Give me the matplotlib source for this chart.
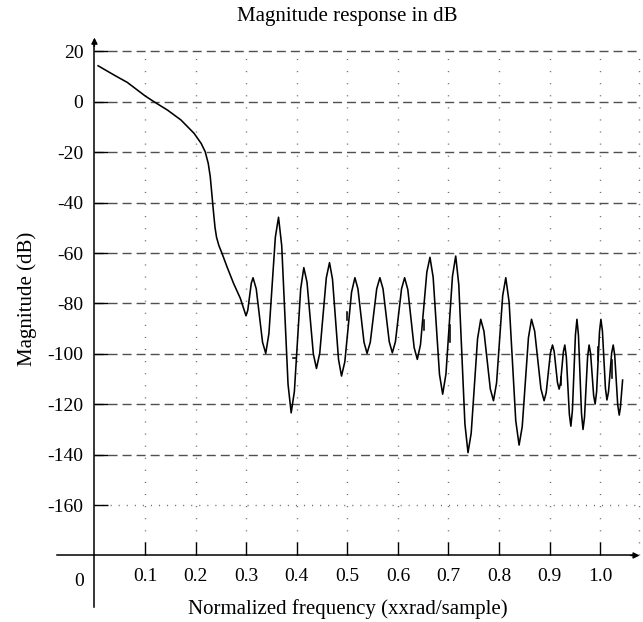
import matplotlib
matplotlib.use("Agg")
import matplotlib.pyplot as plt

# ─── Data ────────────────────────────────────────────────────────────────────
# passband + transition
FREQ_PASS = [0.0073, 0.039, 0.065, 0.0998, 0.118, 0.1446, 0.171, 0.197, 0.211,
             0.219, 0.225, 0.229, 0.232, 0.2337, 0.236, 0.2385, 0.2415, 0.246,
             0.252, 0.262, 0.275, 0.2885]
MAG_PASS = [14.3, 10.6, 7.7, 2.4, 0.0, -3.3, -7.2, -12.5, -16.5,
            -19.8, -24.4, -29.7, -36.3, -40.3, -45.0, -50.0, -53.8, -57.0,
            -60.0, -65.4, -72.0, -78.0]

# stopband ripples
FREQ_STOP = [0.2997, 0.3032, 0.3067, 0.3101, 0.3136, 0.3199, 0.3262, 0.3324,
             0.3387, 0.3450, 0.3514, 0.3577, 0.364, 0.3703, 0.3765, 0.3828,
             0.389, 0.3953, 0.4015, 0.4078, 0.414, 0.4203, 0.4265, 0.4328,
             0.439, 0.4455, 0.4519, 0.4584, 0.4648, 0.4707, 0.4767, 0.4826,
             0.4885, 0.4951, 0.5018, 0.5084, 0.515, 0.521, 0.527, 0.533,
             0.539, 0.5454, 0.5517, 0.5581, 0.5644, 0.5706, 0.5767, 0.5829,
             0.589, 0.5951, 0.6012, 0.6072, 0.6133, 0.6196, 0.6259, 0.6321,
             0.6384, 0.6447, 0.6509, 0.6572, 0.6634, 0.6697, 0.6760, 0.6822,
             0.6885, 0.6950, 0.7014, 0.7079, 0.7143, 0.7204, 0.7265, 0.7325,
             0.7386, 0.7449, 0.7512, 0.7575, 0.7638, 0.7701, 0.7764, 0.7827,
             0.789, 0.7951, 0.8012, 0.8072, 0.8133, 0.8199, 0.8265, 0.8330,
             0.8396, 0.8458, 0.8519, 0.8581, 0.8642, 0.8704, 0.8766, 0.8828,
             0.889, 0.8932, 0.8974, 0.9015, 0.9057, 0.9090, 0.9123, 0.9155,
             0.9188, 0.9216, 0.9244, 0.9272, 0.930, 0.933, 0.936, 0.939,
             0.942, 0.945, 0.948, 0.951, 0.954, 0.957, 0.960, 0.963,
             0.966, 0.969, 0.972, 0.975, 0.978, 0.981, 0.984, 0.987,
             0.990, 0.9929, 0.9957, 0.9986, 1.0014, 1.0044, 1.0074, 1.0103,
             1.0133, 1.0164, 1.0195, 1.0226, 1.0257, 1.0287, 1.0317, 1.0346,
             1.0376, 1.0398, 1.0421, 1.0443]
MAG_STOP = [-84.9, -82.7, -77.4, -72.0, -69.8, -74.2, -84.8, -95.4,
            -99.8, -91.9, -72.8, -53.7, -45.8, -57.1, -84.6, -112.1,
            -123.4, -115.0, -94.6, -74.2, -65.8, -71.6, -85.8, -100.0,
            -105.8, -99.7, -84.8, -69.9, -63.8, -70.4, -86.3, -102.2,
            -108.8, -103.1, -89.3, -75.5, -69.8, -74.2, -84.8, -95.4,
            -99.8, -95.4, -84.8, -74.2, -69.8, -74.2, -84.7, -95.2,
            -99.6, -95.2, -84.7, -74.2, -69.8, -74.5, -86.0, -97.5,
            -102.2, -96.3, -82.0, -67.6, -61.7, -69.6, -88.9, -108.1,
            -116.0, -108.0, -88.6, -69.2, -61.2, -72.6, -100.2, -127.8,
            -139.2, -131.5, -112.8, -94.0, -86.3, -91.0, -102.5, -113.9,
            -118.6, -111.5, -94.2, -76.9, -69.8, -79.5, -103.0, -126.5,
            -136.2, -128.9, -111.3, -93.6, -86.3, -91.0, -102.5, -113.9,
            -118.6, -115.4, -107.6, -99.7, -96.5, -99.1, -105.3, -111.4,
            -114.0, -111.4, -105.3, -99.1, -96.5, -101.2, -112.6, -124.0,
            -128.7, -122.5, -107.5, -92.5, -86.3, -92.7, -108.2, -123.6,
            -130.0, -125.1, -113.3, -101.4, -96.5, -99.9, -108.2, -116.5,
            -119.9, -115.0, -103.1, -91.2, -86.3, -91.0, -102.3, -113.6,
            -118.3, -115.1, -107.4, -99.7, -96.5, -100.6, -110.4, -120.2,
            -124.3, -121.5, -116.0, -110.4]

# little broken pieces of the trace
GLITCH_F = [(0.393, 0.3995), (0.4998, 0.4998), (0.6515, 0.6515), (0.7024, 0.7024),
            (0.922, 0.922), (0.996, 0.996), (1.0232, 1.0232)]
GLITCH_M = [(-101.8, -101.8), (-83.3, -86.6), (-86.6, -90.5), (-88.6, -95.2),
            (-109.0, -112.4), (-97.2, -102.5), (-102.5, -109.5)]

X_TICKS = [0.1, 0.2, 0.3, 0.4, 0.5, 0.6, 0.7, 0.8, 0.9, 1.0]
X_LABELS = ["0.1", "0.2", "0.3", "0.4", "0.5", "0.6", "0.7", "0.8", "0.9", "1.0"]
Y_TICKS = [20, 0, -20, -40, -60, -80, -100, -120, -140, -160]
Y_LABELS = ["20", "0", "-20", "-40", "-60", "-80", "-100", "-120", "-140", "-160"]
DASHED_Y = [20, 0, -20, -40, -60, -80, -100, -120, -140]
DOTTED_Y = [-160]
DOTTED_X = [0.1, 0.2, 0.3, 0.4, 0.5, 0.6, 0.7, 0.8, 0.9, 1.0, 1.077]

# ─── Style ───────────────────────────────────────────────────────────────────
plt.rcParams["font.family"] = ["Liberation Serif", "DejaVu Serif"]
plt.rcParams["lines.scale_dashes"] = False
plt.rcParams["axes.unicode_minus"] = False

fig = plt.figure(figsize=(6.43, 6.22), dpi=100)
ax = fig.add_axes([0, 0, 1, 1])
ax.set_xlim(-0.1867, 1.0846)
ax.set_ylim(-206.4, 40.4)

# grid
ax.hlines(DASHED_Y, 0, 1.08, colors="#505050", linewidth=1.0,
          linestyles=(0, (6.5, 3.6)), zorder=1)
ax.hlines(DOTTED_Y, 0, 1.08, colors="#707070", linewidth=1.0,
          linestyles=(0, (0.8, 5.0)), zorder=1)
ax.vlines(DOTTED_X, -180, 20, colors="#707070", linewidth=1.0,
          linestyles=(0, (0.8, 7.9)), zorder=1)

# axes lines
for side in ["top", "right"]:
    ax.spines[side].set_visible(False)
ax.spines["left"].set_position(("data", 0))
ax.spines["bottom"].set_position(("data", -180))
ax.spines["left"].set_bounds(-200.5, 24.0)
ax.spines["bottom"].set_bounds(-0.074, 1.07)
for side in ["left", "bottom"]:
    ax.spines[side].set_linewidth(1.1)
ax.annotate("", xy=(0, 25.5), xytext=(0, 22),
            arrowprops=dict(arrowstyle="-|>", color="k", lw=1.0,
                            mutation_scale=9, shrinkA=0, shrinkB=0))
ax.annotate("", xy=(1.078, -180), xytext=(1.06, -180),
            arrowprops=dict(arrowstyle="-|>", color="k", lw=1.0,
                            mutation_scale=9, shrinkA=0, shrinkB=0))

ax.set_xticks(X_TICKS)
ax.set_xticklabels(X_LABELS)
ax.set_yticks(Y_TICKS)
ax.set_yticklabels(Y_LABELS)
ax.tick_params(axis="x", direction="in", length=9.4, width=1.0, pad=9, labelsize=14)
ax.tick_params(axis="y", direction="in", length=10, width=1.0, pad=8, labelsize=14)
ax.text(-0.0303, -192.0, "0", ha="center", va="baseline", fontsize=14)

# curve
ax.plot(FREQ_PASS + FREQ_STOP, MAG_PASS + MAG_STOP, color="k", linewidth=1.15,
        solid_joinstyle="round", zorder=3)
for f, m in zip(GLITCH_F, GLITCH_M):
    ax.plot(f, m, color="k", linewidth=1.15, zorder=3)

# texts
ax.text(0.5, 32.0, "Magnitude response in dB", ha="center", va="baseline", fontsize=15)
ax.text(0.5, -203.3, "Normalized frequency (xxrad/sample)", ha="center", va="baseline",
        fontsize=15)
ax.text(-0.133, -78, "Magnitude (dB)", ha="center", va="center", rotation=90, fontsize=15)

fig.savefig("out.png", dpi=100)
